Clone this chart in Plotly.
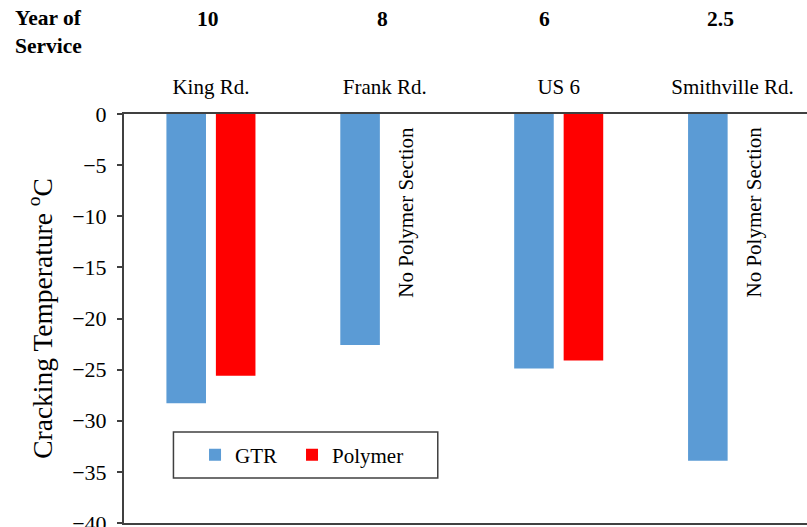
import plotly.graph_objects as go

# Pavement sections and their years in service
sections = ["King Rd.", "Frank Rd.", "US 6", "Smithville Rd."]
years_of_service = ["10", "8", "6", "2.5"]

# Low-temperature cracking temperature (°C)
gtr_values = [-28.3, -22.6, -24.9, -33.9]
polymer_values = [-25.6, None, -24.1, None]

no_polymer_label = "No Polymer Section"
y_ticks = [0, -5, -10, -15, -20, -25, -30, -35, -40]

SERIF = "Times New Roman, Liberation Serif, serif"
AXIS_COLOR = "#404040"

fig = go.Figure()
fig.add_trace(go.Bar(name="GTR", x=sections, y=gtr_values, legend="legend",
                     marker=dict(color="#5B9BD5", line=dict(width=0))))
fig.add_trace(go.Bar(name="Polymer", x=sections, y=polymer_values, legend="legend2",
                     marker=dict(color="#FF0000", line=dict(width=0))))

# header row: "Year of Service" followed by each section's age
annotations = [
    dict(text="<b>Year of<br>Service</b>", xref="paper", yref="paper",
         x=-0.162, y=1.2, xanchor="left", yanchor="middle", align="left",
         showarrow=False, font=dict(family=SERIF, size=21.5, color="black")),
]
year_offsets = [-0.015, -0.015, -0.083, -0.072]
for i, yr in enumerate(years_of_service):
    annotations.append(dict(text=f"<b>{yr}</b>", xref="x", yref="paper",
                            x=i + year_offsets[i], y=1.233, showarrow=False,
                            xanchor="center", yanchor="middle",
                            font=dict(family=SERIF, size=21.5, color="black")))

# sections without a polymer-modified counterpart
for i, v in enumerate(polymer_values):
    if v is None:
        annotations.append(dict(text=no_polymer_label, xref="x", yref="y",
                                x=i + 0.125, y=-9.6, textangle=-90,
                                showarrow=False, xanchor="center", yanchor="middle",
                                font=dict(family=SERIF, size=21, color="black")))

legend_style = dict(orientation="h", y=0.166, xanchor="left", yanchor="middle",
                    bgcolor="rgba(0,0,0,0)", borderwidth=0, itemwidth=30,
                    font=dict(family=SERIF, size=21, color="black"))

fig.update_layout(
    template="none",
    width=807, height=527,
    font=dict(family=SERIF, size=21, color="black"),
    margin=dict(l=123.5, r=0, t=114, b=4, autoexpand=False),
    paper_bgcolor="white", plot_bgcolor="white",
    barmode="group", bargap=0.431, bargroupgap=0.2,
    showlegend=True,
    legend=dict(x=0.104, **legend_style),
    legend2=dict(x=0.246, **legend_style),
    shapes=[dict(type="rect", xref="paper", yref="paper",
                 x0=0.0724, x1=0.4594, y0=0.110, y1=0.2225,
                 line=dict(color=AXIS_COLOR, width=1.5), fillcolor="rgba(0,0,0,0)",
                 layer="above")],
    annotations=annotations,
    xaxis=dict(side="top", range=[-0.5, 3.428], showline=True, mirror=True,
               automargin=False,
               linecolor=AXIS_COLOR, linewidth=2, ticks="", showgrid=False,
               zeroline=False, ticklabelstandoff=10,
               tickfont=dict(family=SERIF, size=21, color="black")),
    yaxis=dict(range=[-40, 0], tickvals=y_ticks, showline=True, automargin=False,
               linecolor=AXIS_COLOR, linewidth=2, ticks="outside", ticklen=5,
               tickcolor=AXIS_COLOR, tickwidth=1.5, showgrid=False, zeroline=False,
               ticklabelstandoff=6, ticklabeloverflow="allow",
               tickfont=dict(family=SERIF, size=22, color="black"),
               title=dict(text="Cracking Temperature <sup>o</sup>C", standoff=12,
                          font=dict(family=SERIF, size=27.5, color="black"))),
)

fig.write_html("out.html")
